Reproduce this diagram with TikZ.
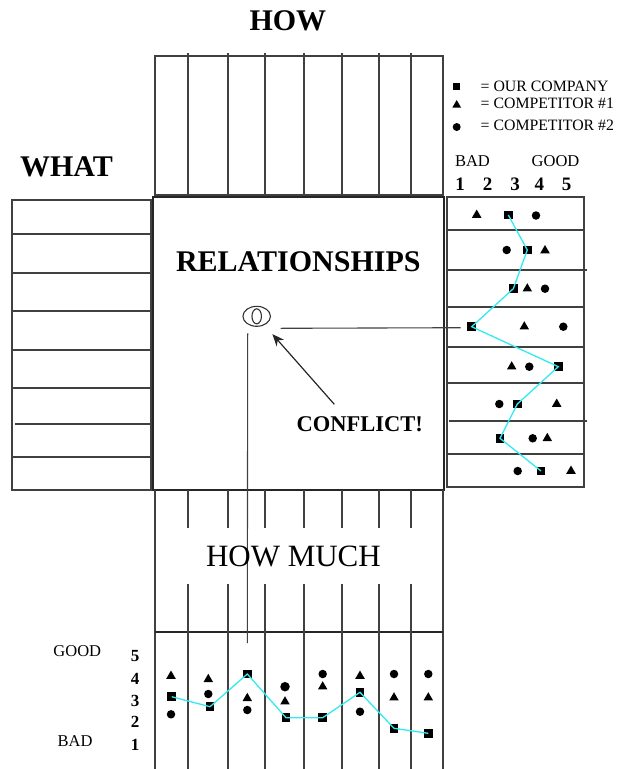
\documentclass[tikz,border=0pt]{standalone}
\usepackage{fontspec}
\setmainfont{Liberation Serif}
\usetikzlibrary{shapes.geometric,arrows.meta,calc}

\definecolor{trendcol}{RGB}{50,235,240}
\tikzset{
  grid/.style={draw=black!75, line width=1.2pt},
  heavy/.style={draw=black!85, line width=1.7pt},
  mksq/.style={rectangle, fill=black, minimum size=8.5pt, inner sep=0pt},
  mktri/.style={regular polygon, regular polygon sides=3, fill=black, minimum size=11pt, inner sep=0pt},
  mkdot/.style={circle, fill=black, minimum size=8.5pt, inner sep=0pt},
  trend/.style={draw=trendcol, line width=1.3pt},
  lbl/.style={inner sep=0pt, outer sep=0pt},
}
\newcommand{\fsz}[1]{\fontsize{#1}{#1}\selectfont}

\begin{document}
\begin{tikzpicture}[x=1pt,y=-1pt]
\useasboundingbox (0,0) rectangle (628,769);

% ---- HOW matrix (top) ----
\draw[grid] (155,56) rectangle (443,195);
\foreach \c in {188,228,265,304,342,379,411}
  \draw[grid] (\c,53) -- (\c,197);

% ---- WHAT list (left) ----
\draw[grid] (12,200) rectangle (151,490);
\foreach \r in {234,273,311,350,388,457}
  \draw[grid] (12,\r) -- (151,\r);
\draw[grid] (15,424) -- (151,424);

% ---- relationship matrix (centre) ----
\draw[heavy] (153,197) rectangle (444,490);

% ---- competitive rating (right) ----
\draw[grid] (447,197) rectangle (584,487);
\foreach \r in {230,307,347,383,454}
  \draw[grid] (447,\r) -- (584,\r);
\draw[grid] (447,270) -- (587,270);
\draw[grid] (449,421) -- (587,421);

% ---- HOW MUCH and technical rating (bottom) ----
\draw[grid] (155,490) -- (155,769);
\draw[grid] (443,490) -- (443,769);
\draw[heavy] (155,632) -- (443,632);
\foreach \c in {188,228,265,304,342,379,411} {
  \draw[grid] (\c,490) -- (\c,528);
  \draw[grid] (\c,584) -- (\c,769);
}

% ---- titles ----
\node[lbl, anchor=base west] (how) at (249.5,30) {\fsz{30}\bfseries HOW};
\node[lbl, anchor=base west] (what) at (20,176.7) {\fsz{30}\bfseries WHAT};
\node[lbl, anchor=base] (relt) at (298.3,271.7) {\fsz{30}\bfseries RELATIONSHIPS};
\node[lbl, anchor=base west] (conflict) at (296.7,431.7) {\fsz{22.5}\bfseries CONFLICT!};

% ---- legend ----
\node[mksq, minimum size=7.5pt] (lsq) at (456.7,86.7) {};
\node[mktri, minimum size=10pt] (ltri) at (456.7,105) {};
\node[mkdot, minimum size=8pt] (ldot) at (456.7,127) {};
\node[lbl, anchor=base west] (lsqt) at (480.7,91.7) {\fsz{15.8}= OUR COMPANY};
\node[lbl, anchor=base west] (ltrit) at (480.7,108.8) {\fsz{15.8}= COMPETITOR \#1};
\node[lbl, anchor=base west] (ldott) at (480.7,130.5) {\fsz{15.8}= COMPETITOR \#2};

% ---- customer rating scale ----
\node[lbl, anchor=base west] (cbad) at (455,166.7) {\fsz{16.5}BAD};
\node[lbl, anchor=base west] (cgood) at (531.7,166.7) {\fsz{16.5}GOOD};
\foreach \n/\x in {1/460,2/487.7,3/515,4/539.3,5/566.7}
  \node[lbl, anchor=base] (cs\n) at (\x,190.7) {\fsz{19}\bfseries \n};

% ---- customer rating markers ----
\node[mktri] (r1t) at (476.7,215) {};
\node[mksq]  (r1s) at (508.3,215) {};
\node[mkdot] (r1c) at (536,215.5) {};
\node[mkdot] (r2c) at (506.7,250) {};
\node[mksq]  (r2s) at (527.3,250) {};
\node[mktri] (r2t) at (545,250.5) {};
\node[mksq]  (r3s) at (513.3,288.7) {};
\node[mktri] (r3t) at (527.3,288.7) {};
\node[mkdot] (r3c) at (545,288.7) {};
\node[mksq]  (r4s) at (471.7,326.7) {};
\node[mktri] (r4t) at (524.3,326.7) {};
\node[mkdot] (r4c) at (563.3,326.7) {};
\node[mktri] (r5t) at (511.7,366.7) {};
\node[mkdot] (r5c) at (529.3,366.7) {};
\node[mksq]  (r5s) at (558.3,366.7) {};
\node[mkdot] (r6c) at (499.3,404) {};
\node[mksq]  (r6s) at (517.3,404) {};
\node[mktri] (r6t) at (556.7,404) {};
\node[mksq]  (r7s) at (500,438.3) {};
\node[mkdot] (r7c) at (532.7,438.3) {};
\node[mktri] (r7t) at (547.3,438.3) {};
\node[mkdot] (r8c) at (517.7,471) {};
\node[mksq]  (r8s) at (541,471) {};
\node[mktri] (r8t) at (571,471) {};
\draw[trend] (r1s.center) -- (r2s.center) -- (r3s.center) -- (r4s.center)
  -- (r5s.center) -- (r6s.center) -- (r7s.center) -- (r8s.center);

% ---- conflict symbol ----
\node[draw=black!80, line width=1.1pt, ellipse, minimum width=27.5pt, minimum height=20pt, inner sep=0pt] (rel) at (256.7,316.3) {};
\node[draw=black!80, line width=1.1pt, ellipse, minimum width=9.5pt, minimum height=15pt, inner sep=0pt] (relin) at (rel.center) {};
\coordinate (arrtail) at (334.3,404.3);
\draw[black!85, line width=1.2pt, -{Stealth[length=12pt,width=10pt]}, shorten >=12pt] (arrtail) -- (rel);

% ---- bottom scale ----
\node[lbl, anchor=base] (tgood) at (77.3,656) {\fsz{16.5}GOOD};
\node[lbl, anchor=base] (tbad) at (75,746.7) {\fsz{16.5}BAD};
\foreach \n/\y in {5/661.7,4/684.3,3/706,2/727.3,1/750}
  \node[lbl, anchor=base] (ts\n) at (135,\y) {\fsz{17}\bfseries \n};

% ---- technical rating markers ----
\node[mktri] (b1t) at (171,676) {};
\node[mksq]  (b1s) at (171.7,696.7) {};
\node[mkdot] (b1c) at (171,714.3) {};
\node[mktri] (b2t) at (208.3,679.3) {};
\node[mkdot] (b2c) at (208.3,694) {};
\node[mksq]  (b2s) at (210,706.7) {};
\node[mksq]  (b3s) at (247.3,674) {};
\node[mktri] (b3t) at (247.3,698.3) {};
\node[mkdot] (b3c) at (247.3,710) {};
\node[mkdot, minimum width=9.5pt, minimum height=8pt] (b4c) at (285,686.7) {};
\node[mktri] (b4t) at (285,701.7) {};
\node[mksq]  (b4s) at (286,717.7) {};
\node[mkdot] (b5c) at (322.7,674) {};
\node[mktri] (b5t) at (322.7,686.7) {};
\node[mksq]  (b5s) at (322.7,717.7) {};
\node[mktri] (b6t) at (360,676) {};
\node[mksq]  (b6s) at (360,692.3) {};
\node[mkdot] (b6c) at (360,711.7) {};
\node[mkdot] (b7c) at (394,674) {};
\node[mktri] (b7t) at (394,697.7) {};
\node[mksq]  (b7s) at (394,728.3) {};
\node[mkdot] (b8c) at (428.3,674) {};
\node[mktri] (b8t) at (428.3,697.7) {};
\node[mksq]  (b8s) at (428.3,733.3) {};
\draw[trend] (b1s.center) -- (b2s.center) -- (b3s.center) -- (b4s.center)
  -- (b5s.center) -- (b6s.center) -- (b7s.center) -- (b8s.center);

% ---- links from the conflict symbol ----
\draw[grid, line width=1.1pt] ($(rel.center)+(24,12)$) -- ($(r4s.center)+(-11,1)$);
\draw[grid, line width=1.1pt] ($(rel.center)+(-9,17)$) -- ($(b3s.center)+(0,-31)$);

% ---- HOW MUCH label over the columns ----
\node[lbl, anchor=base west] (howmuch) at (206,566) {\fsz{31}HOW MUCH};

\end{tikzpicture}
\end{document}
